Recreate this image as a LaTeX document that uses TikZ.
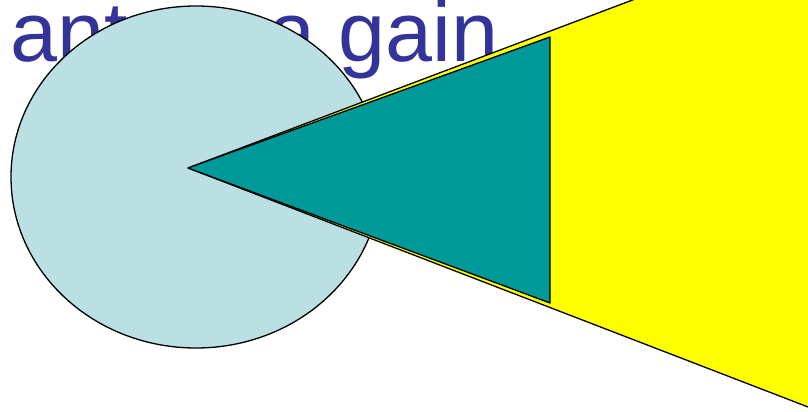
\documentclass[tikz,border=0pt]{standalone}
\usepackage{fontspec}
\setmainfont{Liberation Sans}
\definecolor{agblue}{HTML}{333399}
\definecolor{agsky}{HTML}{BBE0E3}
\definecolor{agteal}{HTML}{009999}
\definecolor{agyellow}{HTML}{FFFF00}

\begin{document}
\begin{tikzpicture}[
  x=1pt, y=-1pt,
  title/.style={anchor=base west, inner sep=0pt, text=agblue,
                font=\fontsize{84.5}{84.5}\selectfont},
  lobe/.style={draw=black, line width=1.3pt, line join=round}]

\useasboundingbox (0,0) rectangle (808,412);
\clip (0,0) rectangle (808,412);

% ---- label behind everything ----------------------------------------
\node[title] (lbl) at (10,62) {antenna gain};

% ---- isotropic pattern ----------------------------------------------
\draw[lobe, fill=agsky] (196,177) ellipse [x radius=185, y radius=171];

% ---- beams ----------------------------------------------------------
\coordinate (src) at (188,168);
\filldraw[lobe, fill=agyellow] (src) -- (860,-86) -- (860,427) -- cycle;
\filldraw[lobe, fill=agteal] (src) -- (550,37) -- (550,303) -- cycle;
\end{tikzpicture}
\end{document}
